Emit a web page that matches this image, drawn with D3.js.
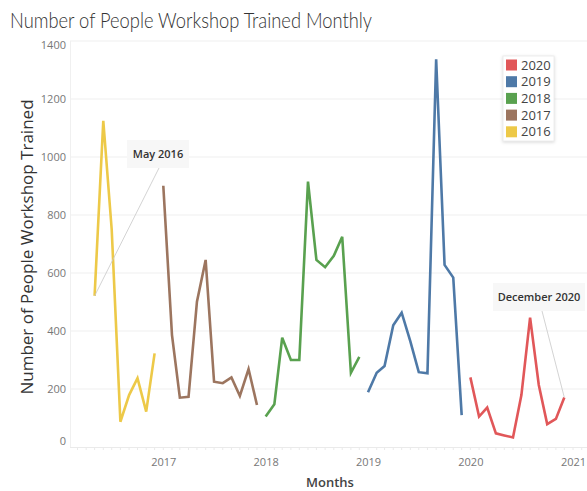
<!DOCTYPE html>
<html><head><meta charset="utf-8">
<script src="https://cdn.jsdelivr.net/npm/d3@7"></script>
<style>
html,body{margin:0;padding:0;background:#fff;}
svg{display:block;font-family:"Open Sans","Noto Sans",sans-serif;}
</style></head>
<body><svg id="chart" width="587" height="491"></svg>
<script>
// ---- data ----
const legendYears = ["2020", "2019", "2018", "2017", "2016"];
const colors = ["#e15759", "#4e79a7", "#59a14f", "#9c755f", "#edc948"];
const startMonth2016 = 5; // May
const values2016 = [521, 1125, 750, 87, 179, 237, 122, 323];
const values2017 = [901, 386, 170, 173, 501, 645, 225, 220, 240, 176, 269, 145];
const values2018 = [105, 147, 377, 300, 300, 915, 645, 620, 659, 725, 256, 311];
const values2019 = [189, 256, 279, 420, 463, 364, 258, 254, 1337, 628, 584, 110];
const values2020 = [240, 105, 136, 47, 40, 33, 179, 446, 214, 79, 97, 171];
const yTicks = [0, 200, 400, 600, 800, 1000, 1200, 1400];
const xTickYears = [2017, 2018, 2019, 2020, 2021];

const series = [
  {year: "2016", start: startMonth2016, values: values2016},
  {year: "2017", start: 1, values: values2017},
  {year: "2018", start: 1, values: values2018},
  {year: "2019", start: 1, values: values2019},
  {year: "2020", start: 1, values: values2020}
].map(s => ({
  year: s.year,
  points: s.values.map((v, i) => ({date: new Date(Date.UTC(+s.year, s.start - 1 + i, 1)), value: v}))
}));

const color = d3.scaleOrdinal().domain(legendYears).range(colors);

// ---- layout ----
const svg = d3.select("#chart");
const plotLeft = 70, plotRight = 587, plotTop = 41, plotBottom = 447;

const x = d3.scaleUtc()
  .domain([new Date(Date.UTC(2017, 0, 1)), new Date(Date.UTC(2021, 0, 1))])
  .range([163.3, 573]);
const y = d3.scaleLinear().domain([0, 1400]).range([plotBottom, plotTop]);

// title
svg.append("text").attr("x", 10).attr("y", 27.5)
  .attr("font-size", 22).attr("fill", "#333").attr("font-weight", 300)
  .attr("font-family", "Lato, 'Open Sans', sans-serif")
  .attr("textLength", 362).attr("lengthAdjust", "spacingAndGlyphs")
  .text("Number of People Workshop Trained Monthly");

// gridlines
svg.append("g").selectAll("line").data(yTicks.filter(d => d > 0)).join("line")
  .attr("x1", plotLeft).attr("x2", plotRight)
  .attr("y1", d => y(d)).attr("y2", d => y(d))
  .attr("stroke", "#efefef").attr("stroke-width", 1);

// left axis line
svg.append("line").attr("x1", plotLeft + 0.5).attr("x2", plotLeft + 0.5)
  .attr("y1", plotTop).attr("y2", plotBottom).attr("stroke", "#f0f0f0");

// y axis
const yAxis = svg.append("g").attr("transform", `translate(${plotLeft},0)`)
  .call(d3.axisLeft(y).tickValues(yTicks).tickFormat(d3.format("d")).tickSize(0).tickPadding(4));
yAxis.select(".domain").remove();
yAxis.selectAll("text").attr("font-size", 11).attr("fill", "#777")
  .attr("font-family", "'Open Sans', sans-serif")
  .attr("dy", d => d === 0 ? "-0.25em" : (d === 1400 ? "0.7em" : "0.32em"));

// x axis
const xAxis = svg.append("g").attr("transform", `translate(0,${plotBottom})`)
  .call(d3.axisBottom(x)
    .tickValues(xTickYears.map(yv => new Date(Date.UTC(yv, 0, 1))))
    .tickFormat(d3.utcFormat("%Y")).tickSize(0).tickPadding(11));
xAxis.select(".domain").attr("stroke", "#eaeaea").attr("d", `M${plotLeft},0.5H${plotRight}`);
xAxis.selectAll("text").attr("font-size", 11).attr("fill", "#777")
  .attr("font-family", "'Open Sans', sans-serif");

// minor month ticks
const monthTicks = d3.utcMonth.range(new Date(Date.UTC(2016, 0, 1)), new Date(Date.UTC(2021, 2, 1)))
  .filter(d => x(d) >= plotLeft && x(d) <= plotRight);
svg.append("g").selectAll("line").data(monthTicks).join("line")
  .attr("x1", d => x(d)).attr("x2", d => x(d))
  .attr("y1", plotBottom).attr("y2", plotBottom + 3)
  .attr("stroke", "#eaeaea");

// axis titles
svg.append("text").attr("transform", `translate(33,247) rotate(-90)`)
  .attr("text-anchor", "middle").attr("font-size", 17).attr("fill", "#333")
  .text("Number of People Workshop Trained");
svg.append("text").attr("x", 330).attr("y", 487).attr("text-anchor", "middle")
  .attr("font-size", 13).attr("font-weight", 600).attr("fill", "#444")
  .text("Months");

// lines
const line = d3.line().x(d => x(d.date)).y(d => y(d.value));
svg.append("g").selectAll("path").data(series).join("path")
  .attr("d", d => line(d.points))
  .attr("fill", "none").attr("stroke", d => color(d.year))
  .attr("stroke-width", 2.6).attr("stroke-linejoin", "miter");

// annotations
function annotate(pt, bx, by, bw, bh, ax, ay, label) {
  const g = svg.append("g");
  g.append("line").attr("x1", ax).attr("y1", ay)
    .attr("x2", x(pt.date)).attr("y2", y(pt.value))
    .attr("stroke", "#c8c8c8").attr("stroke-width", 0.8);
  g.append("rect").attr("x", bx).attr("y", by).attr("width", bw).attr("height", bh)
    .attr("fill", "#f6f6f6").attr("fill-opacity", 0.92);
  g.append("text").attr("x", bx + bw / 2).attr("y", by + bh / 2 + 4)
    .attr("text-anchor", "middle").attr("font-size", 11).attr("font-weight", 600)
    .attr("fill", "#333").text(label);
}
const s2016 = series.find(s => s.year === "2016");
const s2020 = series.find(s => s.year === "2020");
annotate(s2016.points[0], 127, 140, 62, 28, 159, 168, "May 2016");
annotate(s2020.points[11], 493, 283, 92, 28, 542, 311, "December 2020");

// legend
const lg = svg.append("g").attr("transform", "translate(503,56)");
lg.append("rect").attr("x", 0).attr("y", 0).attr("width", 51).attr("height", 85)
  .attr("fill", "#fff").attr("stroke", "#eee").attr("stroke-width", 1)
  .style("filter", "drop-shadow(0px 1px 1.5px rgba(0,0,0,0.15))");
const items = lg.selectAll("g.item").data(legendYears).join("g")
  .attr("transform", (d, i) => `translate(3,${9 + i * 16.7})`);
items.append("rect").attr("x", 0).attr("y", -5.5).attr("width", 11).attr("height", 11)
  .attr("fill", d => color(d));
items.append("text").attr("x", 15).attr("y", 4.5).attr("font-size", 13)
  .attr("fill", "#444").text(d => d);
</script>
</body></html>
